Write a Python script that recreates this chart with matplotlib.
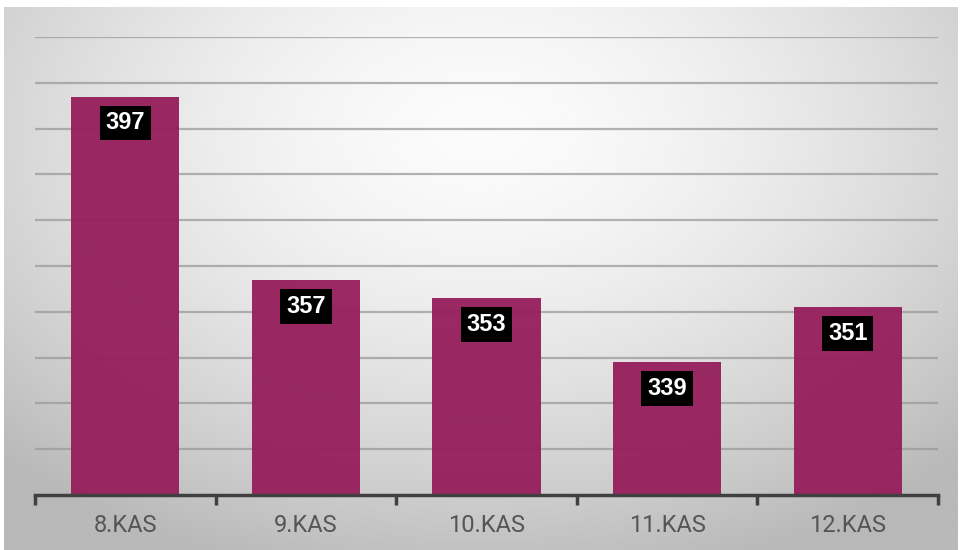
import numpy as np
import matplotlib.pyplot as plt

categories = ['8.KAS', '9.KAS', '10.KAS', '11.KAS', '12.KAS']
values = [397, 357, 353, 339, 351]
y_min, y_max = 310, 410

fig = plt.figure(figsize=(9.61, 5.50), dpi=100)
fig.patch.set_facecolor('white')

# radial gradient background panel
bg = fig.add_axes([0.004, 0.0, 0.992, 0.987])
bg.set_axis_off()
gx, gy = np.meshgrid(np.linspace(-1, 1, 400), np.linspace(-1, 1, 240))
r = np.sqrt(((gx - 0.0) / 1.1) ** 2 + ((gy + 0.55) / 1.3) ** 2)
shade = 0.985 - 0.17 * np.clip(r, 0, 1.3) ** 1.6
bg.imshow(shade, cmap='gray', vmin=0, vmax=1, aspect='auto',
          extent=[0, 1, 0, 1], interpolation='bicubic')

ax = fig.add_axes([35 / 961, 1 - 495 / 550, 903 / 961, (495 - 37) / 550])
ax.patch.set_alpha(0)
x = np.arange(len(categories))
bars = ax.bar(x, values, width=0.6, bottom=0, color='#96205d', alpha=0.96, zorder=2)
ax.set_ylim(y_min, y_max)
ax.set_xlim(-0.5, len(categories) - 0.5)

for yv in range(y_min + 10, y_max + 1, 10):
    ax.axhline(yv, color='#9a9a9a', lw=1.6, alpha=0.75, zorder=1)

for xi, v in zip(x, values):
    ax.annotate(str(v), (xi, v), xytext=(0, -19), textcoords='offset points',
                ha='center', va='center', color='white', fontsize=17,
                fontweight='bold', family='Liberation Sans', zorder=4,
                bbox=dict(boxstyle='square,pad=0.25', fc='black', ec='none'))

for s in ['top', 'right', 'left']:
    ax.spines[s].set_visible(False)
ax.spines['bottom'].set_color('#404040')
ax.spines['bottom'].set_linewidth(2.5)
ax.spines['bottom'].set_zorder(3)
ax.set_yticks([])
ax.set_xticks(np.arange(-0.5, len(categories), 1.0))
ax.set_xticklabels([])
ax.set_xticks(x, minor=True)
ax.set_xticklabels(categories, minor=True, fontsize=17, color='#555555', family='Roboto')
ax.tick_params(axis='x', which='major', length=7, width=2.5, color='#404040', direction='out')
ax.tick_params(axis='x', which='minor', length=0, pad=14)

fig.savefig('out.png', dpi=100)
